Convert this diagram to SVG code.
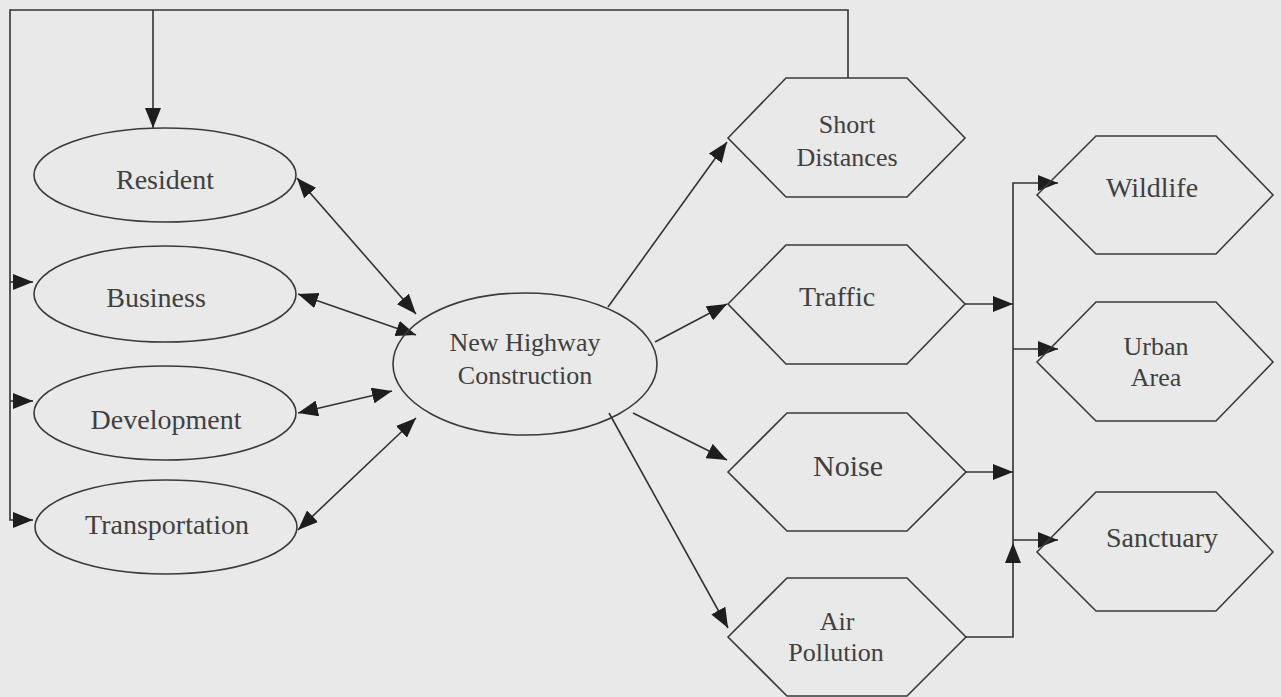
<svg xmlns="http://www.w3.org/2000/svg" width="1281" height="697" viewBox="0 0 1281 697">
<defs>
<marker id="ah" markerUnits="userSpaceOnUse" markerWidth="21" markerHeight="16" refX="20" refY="8" orient="auto-start-reverse">
<path d="M0,0 L20,8 L0,16 z" fill="#1e1e1e"/>
</marker>
<style>
.shape{fill:none;stroke:#3a3a3a;stroke-width:1.6}
.lbl{font-family:"Liberation Serif","Times New Roman",serif;font-size:28px;fill:#404040;text-anchor:middle}
.sm{font-size:26px}
.c{fill:none;stroke:#333;stroke-width:1.6}
.a{marker-end:url(#ah)}
.d{marker-start:url(#ah);marker-end:url(#ah)}
</style>
</defs>
<rect width="1281" height="697" fill="#e9e9e9"/>

<g id="connectors">
<path class="c" d="M848,78 V10 H10 V520 H33" marker-end="url(#ah)"/>
<path class="c a" d="M153,10 V128"/>
<path class="c a" d="M10,282 H33"/>
<path class="c a" d="M10,401 H33"/>
<path class="c d" d="M297,178 L416,314"/>
<path class="c d" d="M298,294 L416,335"/>
<path class="c d" d="M298,413 L392,391"/>
<path class="c d" d="M298,530 L416,418"/>
<path class="c a" d="M608,307 L727,142"/>
<path class="c a" d="M655,342 L727,304"/>
<path class="c a" d="M633,413 L727,460"/>
<path class="c a" d="M609,413 L728,628"/>
<path class="c a" d="M965,304 H1013"/>
<path class="c a" d="M966,472 H1013"/>
<path class="c a" d="M966,637 H1013 V543"/>
<path class="c a" d="M1013,543 V183 H1058"/>
<path class="c a" d="M1013,349 H1058"/>
<path class="c a" d="M1013,540 H1058"/>
</g>

<g id="resident">
<ellipse class="shape" cx="165" cy="175" rx="131" ry="47"/>
<text class="lbl" x="165" y="189">Resident</text>
</g>
<g id="business">
<ellipse class="shape" cx="165" cy="294" rx="131" ry="48"/>
<text class="lbl" x="156" y="307">Business</text>
</g>
<g id="development">
<ellipse class="shape" cx="165" cy="413" rx="131" ry="47"/>
<text class="lbl" x="166" y="429">Development</text>
</g>
<g id="transportation">
<ellipse class="shape" cx="166" cy="527" rx="131" ry="47"/>
<text class="lbl" x="167" y="534">Transportation</text>
</g>
<g id="new-highway">
<ellipse class="shape" cx="525" cy="364" rx="132" ry="71"/>
<text class="lbl sm" x="525" y="351">New Highway</text>
<text class="lbl sm" x="525" y="384">Construction</text>
</g>
<g id="short-distances">
<polygon class="shape" points="728,138 786,78 907,78 965,138 907,197 786,197"/>
<text class="lbl sm" x="847" y="133">Short</text>
<text class="lbl sm" x="847" y="166">Distances</text>
</g>
<g id="traffic">
<polygon class="shape" points="728,304 786,245 907,245 965,304 907,364 786,364"/>
<text class="lbl" x="837" y="306">Traffic</text>
</g>
<g id="noise">
<polygon class="shape" points="728,472 787,413 907,413 966,472 907,531 787,531"/>
<text class="lbl" x="848" y="476" style="font-size:30px">Noise</text>
</g>
<g id="air-pollution">
<polygon class="shape" points="728,637 787,578 907,578 966,637 907,696 787,696"/>
<text class="lbl sm" x="837" y="630">Air</text>
<text class="lbl sm" x="836" y="661">Pollution</text>
</g>
<g id="wildlife">
<polygon class="shape" points="1037,195 1096,136 1216,136 1273,195 1216,254 1096,254"/>
<text class="lbl" x="1152" y="197">Wildlife</text>
</g>
<g id="urban-area">
<polygon class="shape" points="1037,362 1096,302 1216,302 1273,362 1216,421 1096,421"/>
<text class="lbl sm" x="1156" y="355">Urban</text>
<text class="lbl sm" x="1156" y="386">Area</text>
</g>
<g id="sanctuary">
<polygon class="shape" points="1037,552 1096,492 1216,492 1273,552 1216,611 1096,611"/>
<text class="lbl" x="1162" y="547">Sanctuary</text>
</g>
</svg>
